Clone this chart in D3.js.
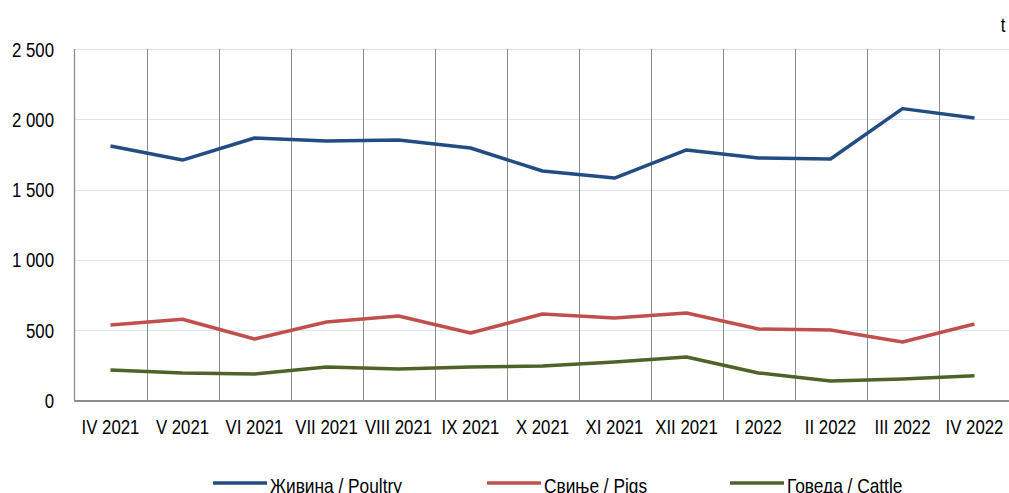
<!DOCTYPE html>
<html>
<head>
<meta charset="utf-8">
<script src="https://cdn.jsdelivr.net/npm/d3@7"></script>
<style>
  body { margin: 0; background: #fff; }
  svg text { font-family: "Liberation Sans", Arial, sans-serif; fill: #000; }
</style>
</head>
<body>
<svg id="chart" width="1009" height="493"></svg>
<script>
const months = ['IV 2021', 'V 2021', 'VI 2021', 'VII 2021', 'VIII 2021', 'IX 2021', 'X 2021',
  'XI 2021', 'XII 2021', 'I 2022', 'II 2022', 'III 2022', 'IV 2022'];
const poultry = [1810, 1710, 1867, 1846, 1853, 1796, 1632, 1582, 1782, 1725, 1718, 2076, 2009];
const pigs = [537, 578, 437, 558, 601, 480, 615, 587, 622, 508, 501, 416, 544];
const cattle = [217, 196, 188, 238, 224, 238, 245, 274, 309, 196, 139, 153, 176];
const yTicks = [0, 500, 1000, 1500, 2000, 2500];
const seriesNames = ['Живина / Poultry', 'Свиње / Pigs', 'Говеда / Cattle'];
const seriesColors = ['#234d82', '#c0504d', '#4f6228'];

const svg = d3.select('#chart');
const margin = {left: 74.5, right: 1010.5, top: 49, bottom: 400.5};
const fontSize = 21;
const squeeze = 0.8;

let x = d3.scaleBand()
  .domain(months)
  .range([margin.left, margin.right]);

let y = d3.scaleLinear()
  .domain([0, 2500])
  .range([margin.bottom, margin.top]);

const fmt = v => d3.format(',')(v).replace(/,/g, ' ');

// Horizontal grid
svg.append('g')
  .selectAll('line')
  .data(yTicks.filter(d => d > 0))
  .join('line')
  .attr('x1', margin.left)
  .attr('x2', margin.right)
  .attr('y1', d => Math.round(y(d)) + 0.5)
  .attr('y2', d => Math.round(y(d)) + 0.5)
  .style('stroke', '#dce6f1')
  .style('stroke-width', 1.2);

// Vertical grid between categories
svg.append('g')
  .selectAll('line')
  .data(months.slice(1))
  .join('line')
  .attr('x1', d => Math.round(x(d)) + 0.5)
  .attr('x2', d => Math.round(x(d)) + 0.5)
  .attr('y1', margin.top)
  .attr('y2', margin.bottom)
  .style('stroke', '#8c8c8c')
  .style('stroke-width', 1);

// Axis lines
svg.append('line')
  .attr('x1', margin.left).attr('x2', margin.left)
  .attr('y1', margin.top).attr('y2', margin.bottom + 1)
  .style('stroke', '#8c8c8c').style('stroke-width', 1.3);
svg.append('line')
  .attr('x1', margin.left).attr('x2', margin.right)
  .attr('y1', margin.bottom + 0.5).attr('y2', margin.bottom + 0.5)
  .style('stroke', '#8c8c8c').style('stroke-width', 2);

// Y tick labels
svg.append('g')
  .selectAll('text')
  .data(yTicks)
  .join('text')
  .attr('transform', d => `translate(54, ${y(d) + 7.5}) scale(${squeeze}, 1)`)
  .style('font-size', fontSize + 'px')
  .style('text-anchor', 'end')
  .text(d => fmt(d));

// X tick labels
svg.append('g')
  .selectAll('text')
  .data(months)
  .join('text')
  .attr('transform', d => `translate(${x(d) + x.bandwidth() / 2}, 434) scale(${squeeze}, 1)`)
  .style('font-size', fontSize + 'px')
  .style('text-anchor', 'middle')
  .text(d => d);

// Unit label
svg.append('text')
  .attr('transform', `translate(1003, 32) scale(${squeeze}, 1)`)
  .style('font-size', fontSize + 'px')
  .style('text-anchor', 'middle')
  .text('t');

// Lines
const line = d3.line()
  .x((d, i) => x(months[i]) + x.bandwidth() / 2)
  .y(d => y(d));

[poultry, pigs, cattle].forEach((vals, i) => {
  svg.append('path')
    .datum(vals)
    .attr('d', line)
    .style('fill', 'none')
    .style('stroke', seriesColors[i])
    .style('stroke-width', 3.5)
    .style('stroke-linejoin', 'round');
});

// Legend (text runs off the bottom edge, as in the original)
const legendX = [213, 487, 730];
let legend = svg.append('g')
  .selectAll('g')
  .data(seriesNames)
  .join('g')
  .attr('transform', (d, i) => `translate(${legendX[i]}, 483)`);

legend.append('line')
  .attr('x1', 0).attr('x2', 54)
  .attr('y1', 0).attr('y2', 0)
  .style('stroke', (d, i) => seriesColors[i])
  .style('stroke-width', 3.5);

legend.append('text')
  .attr('transform', `translate(57, 10) scale(${squeeze * 1.03}, 1)`)
  .style('font-size', fontSize + 'px')
  .text(d => d);
</script>
</body>
</html>
